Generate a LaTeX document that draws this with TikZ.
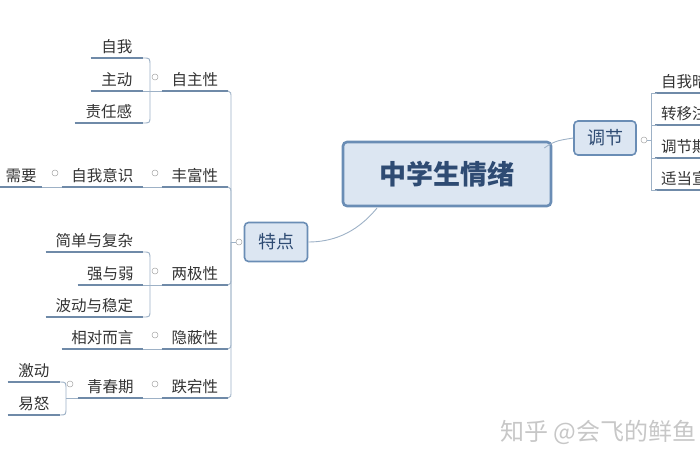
\documentclass[tikz,border=0pt]{standalone}
\usepackage{fontspec}
\setmainfont{Noto Sans CJK SC}
\begin{document}
\begin{tikzpicture}[x=1pt,y=-1pt,
  lbl/.style={inner xsep=6pt,inner ysep=4pt,font=\fontsize{15.5}{17}\selectfont,text=black!80,anchor=south east,align=right},
  ul/.style={line width=2pt,draw=ubl},
  cv/.style={line width=0.9pt,draw=cbl},
  topic/.style={draw=bbl,line width=1.6pt,fill=bfill,rounded corners=4pt,text=tblue,inner sep=0pt,font=\fontsize{18}{20}\selectfont},
  knob/.style={circle,draw=gray!70,fill=white,line width=0.5pt,inner sep=0pt,minimum size=6pt}]
\definecolor{ubl}{HTML}{6F8AA8}
\definecolor{cbl}{HTML}{9DB1C6}
\definecolor{bbl}{HTML}{6A8DB5}
\definecolor{bfill}{HTML}{DCE6F2}
\definecolor{tblue}{HTML}{2E4B73}
\useasboundingbox (0,0) rectangle (700,470);
% central
\node[topic,line width=2.6pt,minimum width=208pt,minimum height=64pt,font=\bfseries\fontsize{27}{30}\selectfont] (c) at (447,174) {中学生情绪};
\node[topic,minimum width=62pt,minimum height=34pt] (tj) at (605,138) {调节};
\node[topic,minimum width=63pt,minimum height=39pt] (td) at (276,242) {特点};
\coordinate (c1) at ([xshift=-8pt,yshift=26pt]c.east);
\draw[cv] (c1) .. controls (555,140) and (562,140) .. (tj.west);
\coordinate (c2) at (377,208);
\draw[cv] (c2) .. controls (355,235) and (330,242) .. (td.east);
% right children
\node[knob] (kr) at (644,140) {};
\foreach \t/\y/\n in {自我暗示/93/r1,转移注意/125/r2,调节期望/158/r3,适当宣泄/190/r4}{
  \node[lbl,anchor=south west,align=left,minimum width=50pt] (\n) at (655,\y) {\t};
  \draw[ul] (\n.south west) -- ++(60,0);
}
\foreach \n in {r1,r2,r3,r4}{\draw[cv] (kr.east) -- (651,140) |- ([xshift=2pt]\n.south west);}
% left spine
\node[knob] (kl) at (239,242) {};
\foreach \t/\y/\n in {自主性/91/a,丰富性/187/b,两极性/285/p,隐蔽性/349/d,跌宕性/398/e}{
  \node[lbl,minimum width=66pt] (\n) at (228,\y) {\t};
  \draw[ul] (\n.south west) -- (\n.south east);
  \node[knob] (k\n) at (155,\y-14) {};
}
\draw[cv] (kl.west) -- (231,242);
\draw[cv] (231,242) -- (231,99) .. controls (231,92) .. (a.south east);
\draw[cv] (231,242) -- (231,195) .. controls (231,188) .. (b.south east);
\draw[cv] (231,242) -- (231,277) .. controls (231,284) .. (p.south east);
\draw[cv] (231,242) -- (231,341) .. controls (231,348) .. (d.south east);
\draw[cv] (231,242) -- (231,390) .. controls (231,397) .. (e.south east);
% level 2
\foreach \t/\y/\w/\n in {自我/58/52/a1,主动/91/52/a2,责任感/123/68/a3,简单与复杂/252/97/p1,强与弱/285/65/p2,波动与稳定/317/97/p3}{
  \node[lbl,minimum width=\w pt] (\n) at (143,\y) {\t};
  \draw[ul] (\n.south west) -- (\n.south east);
}
\draw[cv] (a1.south east) .. controls (150,58) .. (150,66) -- (150,116) .. controls (150,123) .. (a3.south east);
\draw[cv] (a2.south east) -- (a.south west);
\draw[cv] (p1.south east) .. controls (150,252) .. (150,260) -- (150,310) .. controls (150,317) .. (p3.south east);
\draw[cv] (p2.south east) -- (p.south west);
\node[lbl,minimum width=81pt] (b1) at (143,187) {自我意识};
\draw[ul] (b1.south west) -- (b1.south east);
\draw[cv] (b1.south east) -- (b.south west);
\node[knob] (kb1) at (55,173) {};
\node[lbl,minimum width=42pt,anchor=south west,inner xsep=0pt] (b2) at (0,187) {需要};
\draw[ul] (b2.south west) -- (b2.south east);
\draw[cv] (b2.south east) -- (b1.south west);
\node[lbl,minimum width=81pt] (d1) at (143,349) {相对而言};
\draw[ul] (d1.south west) -- (d1.south east);
\draw[cv] (d1.south east) -- (d.south west);
\node[lbl,minimum width=65pt] (e1) at (143,398) {青春期};
\draw[ul] (e1.south west) -- (e1.south east);
\draw[cv] (e1.south east) -- (e.south west);
\node[knob] (ke1) at (70,384) {};
\node[lbl,minimum width=52pt] (e2) at (60,382) {激动};
\node[lbl,minimum width=52pt] (e3) at (60,415) {易怒};
\draw[ul] (e2.south west) -- (e2.south east);
\draw[ul] (e3.south west) -- (e3.south east);
\draw[cv] (e2.south east) .. controls (66,382) .. (66,390) -- (66,407) .. controls (66,415) .. (e3.south east);
\draw[cv] (66,398) -- (e1.south west);
% watermark
\node[anchor=west,text=black!22,font=\fontsize{24}{26}\selectfont,inner xsep=0pt] (wm) at (500,432) {知乎 @会飞的鲜鱼};
\end{tikzpicture}
\end{document}
